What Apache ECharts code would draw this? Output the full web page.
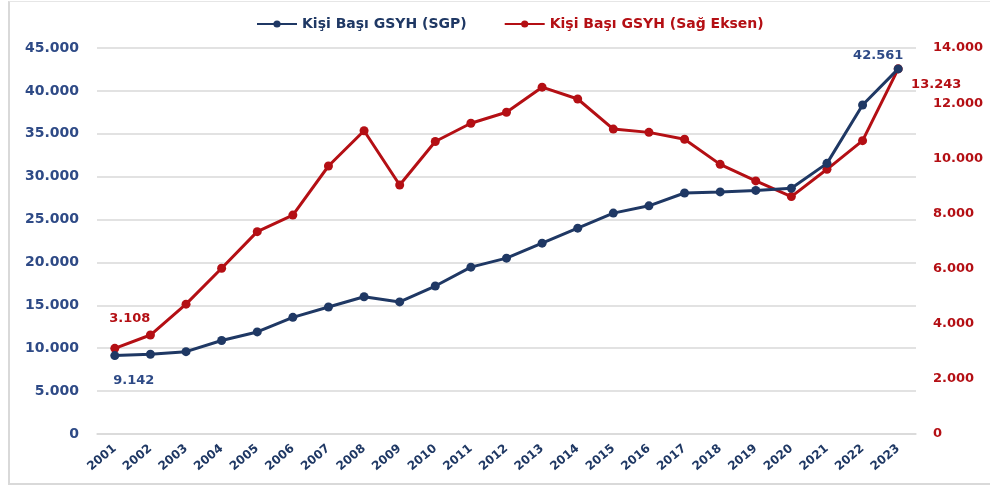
<!DOCTYPE html>
<html>
<head>
<meta charset="utf-8">
<script src="https://cdn.jsdelivr.net/npm/echarts@6/dist/echarts.min.js"></script>
<style>
  html, body { margin: 0; padding: 0; background: #fff; }
  #frame { position: absolute; left: 8px; top: 1px; width: 990px; height: 484px; border-left: 2px solid #d9d9d9; border-top: 1px solid #e6e6e6; border-bottom: 2px solid #d9d9d9; box-sizing: border-box; }
  #chart { position: absolute; left: 0; top: 0; width: 990px; height: 490px; }
</style>
</head>
<body>
<div id="frame"></div>
<div id="chart"></div>
<script>
const years = ['2001','2002','2003','2004','2005','2006','2007','2008','2009','2010','2011','2012',
  '2013','2014','2015','2016','2017','2018','2019','2020','2021','2022','2023'];

// Kişi başı GSYH (SGP) - sol eksen
const sgp = [9142, 9300, 9600, 10900, 11900, 13600, 14800, 16000, 15400, 17250, 19450, 20500,
  22250, 24000, 25750, 26600, 28100, 28220, 28400, 28650, 31550, 38350, 42561];

// Kişi başı GSYH - sağ eksen
const usd = [3108, 3590, 4710, 6010, 7340, 7940, 9720, 11000, 9030, 10610, 11270, 11670,
  12580, 12150, 11060, 10940, 10690, 9780, 9180, 8610, 9600, 10640, 13243];

const navy = '#1f3864';
const red = '#b40f14';
const font = 'DejaVu Sans';
const fmt = v => String(v).replace(/\B(?=(\d{3})+(?!\d))/g, '.');

// only first and last points carry a label
const labelled = (arr, first, last) => arr.map((v, i) => {
  if (i === 0) return { value: v, label: { show: true, position: 'inside', offset: first } };
  if (i === arr.length - 1) return { value: v, label: { show: true, position: 'inside', offset: last } };
  return v;
});

const chart = echarts.init(document.getElementById('chart'));

chart.setOption({
  animation: false,
  textStyle: { fontFamily: font },
  legend: {
    top: 12,
    left: 251,
    itemWidth: 40,
    itemHeight: 9,
    itemGap: 37,
    textStyle: { fontWeight: 'bold', fontSize: 14, fontFamily: font },
    data: [
      { name: 'Kişi Başı GSYH (SGP)', textStyle: { color: navy } },
      { name: 'Kişi Başı GSYH (Sağ Eksen)', textStyle: { color: red } }
    ]
  },
  grid: { left: 97, right: 74, top: 48, bottom: 56 },
  xAxis: {
    type: 'category',
    data: years,
    boundaryGap: true,
    axisLine: { lineStyle: { color: '#d9d9d9', width: 1.5 } },
    axisTick: { show: false },
    axisLabel: { rotate: 40, color: navy, fontWeight: 'bold', fontSize: 12, margin: 13, interval: 0 }
  },
  yAxis: [
    {
      type: 'value',
      min: 0, max: 45000, interval: 5000,
      axisLine: { show: false },
      axisTick: { show: false },
      splitLine: { lineStyle: { color: '#d9d9d9', width: 1.5 } },
      axisLabel: { color: '#2e4a86', fontWeight: 'bold', fontSize: 14, margin: 18, formatter: fmt }
    },
    {
      type: 'value',
      min: 0, max: 14000, interval: 2000,
      axisLine: { show: false },
      axisTick: { show: false },
      splitLine: { show: false },
      axisLabel: { color: red, fontWeight: 'bold', fontSize: 13, margin: 17, formatter: fmt }
    }
  ],
  series: [
    {
      name: 'Kişi Başı GSYH (SGP)',
      type: 'line',
      yAxisIndex: 0,
      data: labelled(sgp, [19, 25], [-20, -13]),
      symbol: 'circle',
      symbolSize: 9,
      lineStyle: { color: navy, width: 3 },
      itemStyle: { color: navy },
      label: { color: '#2e4a86', fontWeight: 'bold', fontSize: 13, formatter: p => fmt(p.value) },
      z: 3
    },
    {
      name: 'Kişi Başı GSYH (Sağ Eksen)',
      type: 'line',
      yAxisIndex: 1,
      data: labelled(usd, [15, -30], [38, 16]),
      symbol: 'circle',
      symbolSize: 9,
      lineStyle: { color: red, width: 3 },
      itemStyle: { color: red },
      label: { color: red, fontWeight: 'bold', fontSize: 13, formatter: p => fmt(p.value) },
      z: 2
    }
  ]
});
</script>
</body>
</html>
